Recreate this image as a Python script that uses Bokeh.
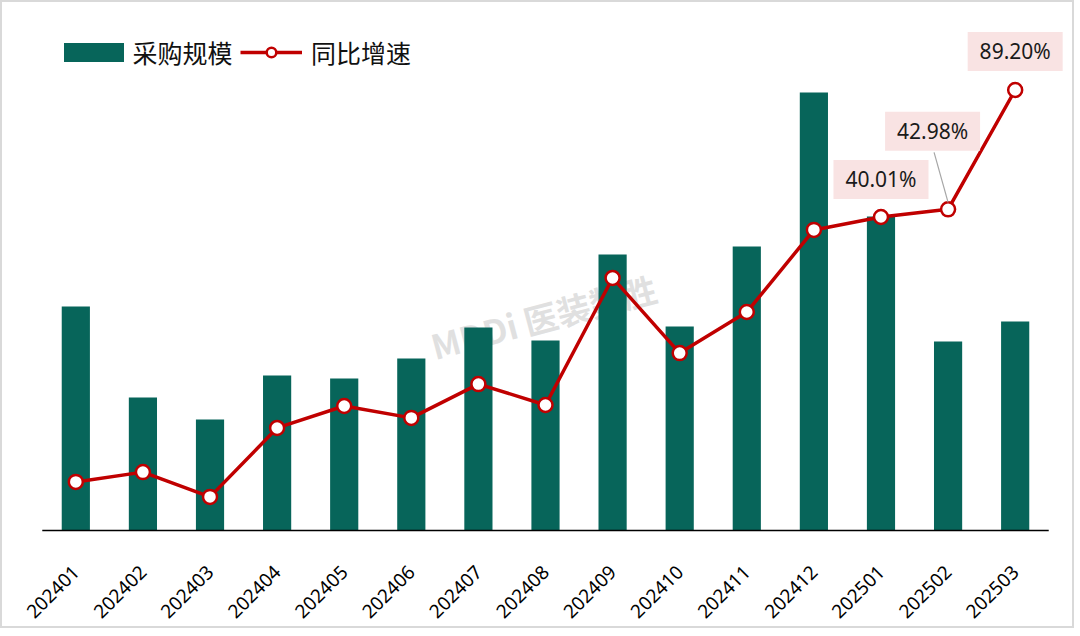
import math
from bokeh.plotting import figure
from bokeh.models import FactorRange, Range1d, Legend, LegendItem, Label
from bokeh.core.properties import value
from bokeh.embed import file_html
from bokeh.resources import INLINE

# ---- data ----
months = ["202401", "202402", "202403", "202404", "202405", "202406", "202407",
          "202408", "202409", "202410", "202411", "202412", "202501", "202502", "202503"]
purchase_scale = [224, 133, 111, 155, 152, 172, 203, 190, 276, 204, 284, 438, 314, 189, 209]
yoy_growth = [-62.6, -58.8, -68.4, -41.7, -33.2, -37.8, -24.7, -32.8, 16.4, -12.7,
              3.2, 35.0, 40.01, 42.98, 89.20]
labeled_months = ["202501", "202502", "202503"]
labeled_values = [40.01, 42.98, 89.20]
labeled_texts = ["40.01%", "42.98%", "89.20%"]

BAR = "#07655A"
RED = "#C00000"
FONT = "Noto Sans"
CJK = "Noto Sans CJK SC"

FRAME_W, FRAME_H = 1040, 509
Y_LO, Y_HI = -2, 507
Y2_LO, Y2_HI = -82.19, 114.95

p = figure(x_range=FactorRange(*months, range_padding=0.25, range_padding_units="absolute"),
           y_range=Range1d(Y_LO, Y_HI),
           width=1074, height=628, output_backend="svg", toolbar_location=None,
           min_border_left=23, min_border_right=11, min_border_top=21, min_border_bottom=98,
           y_axis_location=None)
p.extra_y_ranges = {"yoy": Range1d(Y2_LO, Y2_HI)}
p.styles = {"border": "2px solid #D9D9D9"}
p.outline_line_color = None
p.xgrid.grid_line_color = None
p.ygrid.grid_line_color = None
p.background_fill_color = "white"
p.border_fill_color = "white"

# watermark
p.add_layout(Label(x=518, y=216, x_units="screen", y_units="screen", text="MDDi 医装数胜",
                   text_font=CJK, text_font_size="34px", text_font_style="bold",
                   text_color="#CCCCCC", text_alpha=0.6, angle=0.26,
                   text_align="center", text_baseline="middle", level="underlay"))

bars = p.vbar(x=months, top=purchase_scale, width=0.42, color=BAR, line_color=None)

# baseline (category axis line limited to the categories)
p.segment(x0=[0], x1=[len(months)], y0=[0], y1=[0], line_color="black", line_width=1.5)

line = p.line(x=months, y=yoy_growth, y_range_name="yoy", line_color=RED, line_width=3.5)
dots = p.scatter(x=months, y=yoy_growth, y_range_name="yoy", size=14, fill_color="white",
                 line_color=RED, line_width=2.5)

ax = p.xaxis[0]
ax.axis_line_color = None
ax.major_tick_line_color = None
ax.minor_tick_line_color = None
ax.major_label_orientation = math.pi / 4
ax.major_label_text_font = FONT
ax.major_label_text_font_size = "19px"
ax.major_label_text_color = "black"
ax.major_label_standoff = 30

pct_per_px = (Y2_HI - Y2_LO) / FRAME_H
cat_per_px = (len(months) + 0.5) / FRAME_W

# data labels: pink boxes with text, placed relative to their points
offsets = {"202501": (0, 37.5), "202502": (-15.5, 78), "202503": (0, 38.5)}
lx, ly = [], []
for m, v in zip(labeled_months, labeled_values):
    dx, dy = offsets[m]
    lx.append(months.index(m) + 0.5 + dx * cat_per_px)
    ly.append(v + dy * pct_per_px)
p.rect(x=lx, y=ly, width=95, height=39, width_units="screen", height_units="screen",
       y_range_name="yoy", fill_color="#F9E3E3", line_color=None)
p.text(x=lx, y=ly, text=labeled_texts, y_range_name="yoy", text_font=value(FONT),
       text_font_size="21px", text_color="#1a1a1a", text_align="center",
       text_baseline="middle")

# leader line for 202502 label
i2 = months.index("202502")
v2 = labeled_values[labeled_months.index("202502")]
p.segment(x0=[i2 + 0.5 - 14 * cat_per_px], y0=[v2 + 57 * pct_per_px],
          x1=[i2 + 0.5], y1=[v2 + 7 * pct_per_px], y_range_name="yoy",
          line_color="#A6A6A6", line_width=1.2)

common = dict(orientation="horizontal", glyph_height=24, padding=0, margin=0, spacing=0,
              border_line_color=None, background_fill_alpha=0,
              label_text_font=CJK, label_text_font_size="25px", label_text_color="#111111")
leg1 = Legend(items=[LegendItem(label="采购规模", renderers=[bars])],
              location=(30.5, 462), glyph_width=75, label_standoff=2, **common)
leg2 = Legend(items=[LegendItem(label="同比增速", renderers=[line, dots])],
              location=(215, 462), glyph_width=62, label_standoff=9, **common)
p.add_layout(leg1, "center")
p.add_layout(leg2, "center")

open("out.html", "w").write(file_html(p, INLINE))
